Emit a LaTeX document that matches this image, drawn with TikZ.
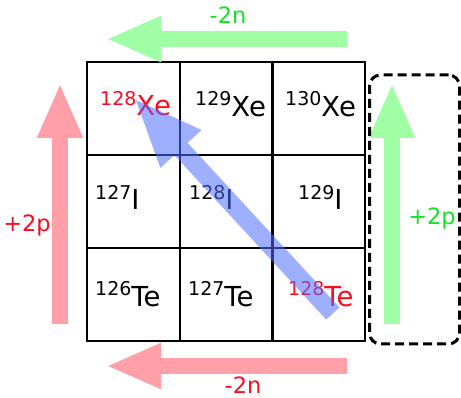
\documentclass[tikz,border=0pt]{standalone}
\usepackage{fontspec}
\setmainfont{DejaVu Sans}
\usetikzlibrary{arrows.meta}

\definecolor{softgreen}{RGB}{160,255,165}
\definecolor{softred}{RGB}{255,160,168}
\definecolor{textgreen}{RGB}{20,225,40}
\definecolor{textred}{RGB}{255,10,30}
\definecolor{pathblue}{RGB}{80,110,255}

% isotope label: mass number as a raised small number
\newcommand{\iso}[2]{{\fontsize{19}{19}\selectfont\raisebox{10.5pt}{#1}}#2}

\begin{document}
\begin{tikzpicture}[x=1pt, y=-1pt,
        cell/.style={rectangle, draw, line width=2pt, minimum width=92.67pt, minimum height=93pt,
            inner sep=0pt, outer sep=0pt},
        nuclide/.style={anchor=base west, inner sep=0pt, font=\fontsize{27.5}{27.5}\selectfont},
        nucshift/.style={line width=16pt, -{Triangle[length=55pt, width=42pt]}},
        label/.style={font=\fontsize{22.5}{22.5}\selectfont}
    ]
        \useasboundingbox (0,0) rectangle (461,398);

        % Grid of cells
        \node[cell] (xe128) at (133.5, 108.5) {};
        \node[cell] (xe129) at (226.2, 108.5) {};
        \node[cell] (xe130) at (318.8, 108.5) {};
        \node[cell] (i127) at (133.5, 201.5) {};
        \node[cell] (i128) at (226.2, 201.5) {};
        \node[cell] (i129) at (318.8, 201.5) {};
        \node[cell] (te126) at (133.5, 294.5) {};
        \node[cell] (te127) at (226.2, 294.5) {};
        \node[cell] (te128) at (318.8, 294.5) {};

        % Nuclide names
        \node[nuclide, text=textred] (xe128t) at (100, 116) {\iso{128}{Xe}};
        \node[nuclide] (xe129t) at (195, 116.5) {\iso{129}{Xe}};
        \node[nuclide] (xe130t) at (285, 116.5) {\iso{130}{Xe}};
        \node[nuclide] (i127t) at (95, 210) {\iso{127}{I}};
        \node[nuclide] (i128t) at (189, 210) {\iso{128}{I}};
        \node[nuclide] (i129t) at (298, 210) {\iso{129}{I}};
        \node[nuclide] (te126t) at (95, 306.5) {\iso{126}{Te}};
        \node[nuclide] (te127t) at (188, 306.5) {\iso{127}{Te}};
        \node[nuclide, text=textred] (te128t) at (288, 306.5) {\iso{128}{Te}};

        % Arrow ends
        \coordinate (ntop1) at (347, 39);
        \coordinate (ntop2) at (106, 39);
        \coordinate (nbot1) at (347, 366);
        \coordinate (nbot2) at (106, 366);
        \coordinate (pleft1) at (60, 324);
        \coordinate (pleft2) at (60, 83);
        \coordinate (pright1) at (392, 324);
        \coordinate (pright2) at (392, 83);

        % Neutron and proton shifts
        \draw[nucshift, softgreen] (ntop1) -- (ntop2);
        \draw[nucshift, softred] (nbot1) -- (nbot2);
        \draw[nucshift, softred] (pleft1) -- (pleft2);
        \draw[nucshift, softgreen] (pright1) -- (pright2);

        \node[label, text=textgreen] (ntoplabel) at (228, 15) {-2n};
        \node[label, text=textred] (nbotlabel) at (243, 385) {-2n};
        \node[label, text=textred] (pleftlabel) at (27, 225) {+2p};
        \node[label, text=textgreen] (prightlabel) at (432, 218) {+2p};

        % Dashed box round the right arrow
        \node[draw, line width=3pt, dash pattern=on 9pt off 5pt, rounded corners=11pt,
            minimum width=90pt, minimum height=269pt, inner sep=0pt] (pbox) at (414.5, 209.5) {};

        % Double beta decay path
        \begin{scope}[transparency group, opacity=0.55]
            \draw[line width=18pt, pathblue, -{Triangle[length=70pt, width=50pt]}]
                ([shift={(14,19)}]te128.center) -- ([shift={(0,-11)}]xe128.center);
        \end{scope}
    \end{tikzpicture}
\end{document}
